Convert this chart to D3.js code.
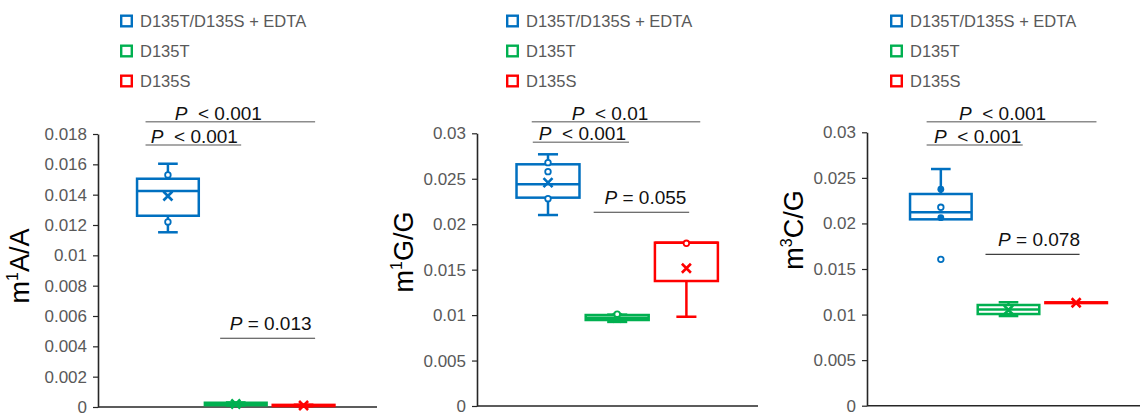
<!doctype html>
<html>
<head>
<meta charset="UTF-8">
<title>m1A / m1G / m3C</title>
<script src="https://d3js.org/d3.v7.min.js"></script>
<style>
  body { margin: 0; background: #fff; }
  svg text { font-family: "Liberation Sans", Arial, sans-serif; }
</style>
</head>
<body>
<script>
// groups and colours
var groups = ["D135T/D135S + EDTA", "D135T", "D135S"];
var groupColors = ["#0070c0", "#00b050", "#ff0000"];

// box stats: lo whisker, q1, median, q3, hi whisker, mean
var m1A = [
  {lo: 0.01152, q1: 0.01261, med: 0.01424, q3: 0.01505, hi: 0.01604, mean: 0.01391},
  {lo: 0.00010, q1: 0.00012, med: 0.00020, q3: 0.00028, hi: 0.00030, mean: 0.00020},
  {lo: 0.00005, q1: 0.00006, med: 0.00010, q3: 0.00014, hi: 0.00015, mean: 0.00010}
];
var m1A_open = [[0.0153, 0.0122], [], []];
var m1A_solid = [[], [], []];

var m1G = [
  {lo: 0.02101, q1: 0.02292, med: 0.02439, q3: 0.02659, hi: 0.02769, mean: 0.02457},
  {lo: 0.00925, q1: 0.00946, med: 0.00972, q3: 0.01001, hi: 0.01005, mean: 0.00970},
  {lo: 0.00982, q1: 0.01375, med: 0.01797, q3: 0.01797, hi: 0.01797, mean: 0.01515}
];
var m1G_open = [[0.02677, 0.02578, 0.02281], [0.0101], [0.0179]];
var m1G_solid = [[], [], []];

var m3C = [
  {lo: 0.02045, q1: 0.02045, med: 0.02122, q3: 0.02323, hi: 0.02597, mean: null},
  {lo: 0.00984, q1: 0.01006, med: 0.01056, q3: 0.01105, hi: 0.01135, mean: 0.01050},
  {lo: 0.01130, q1: 0.01126, med: 0.01130, q3: 0.01134, hi: 0.01130, mean: 0.01130}
];
var m3C_open = [[0.02177, 0.01606], [], []];
var m3C_solid = [[0.02375, 0.02063], [], []];

// y ticks
var ticks1 = [0, 0.002, 0.004, 0.006, 0.008, 0.01, 0.012, 0.014, 0.016, 0.018];
var ticks2 = [0, 0.005, 0.01, 0.015, 0.02, 0.025, 0.03];

// p-value brackets: from group, to group, height (data units), label
var br1 = [
  {a: 0, b: 2, y: 0.01881, rel: "<", p: "0.001"},
  {a: 0, b: 1, y: 0.01727, rel: "<", p: "0.001"},
  {a: 1, b: 2, y: 0.00453, rel: "=", p: "0.013"}
];
var br2 = [
  {a: 0, b: 2, y: 0.03128, rel: "<", p: "0.01"},
  {a: 0, b: 1, y: 0.02901, rel: "<", p: "0.001"},
  {a: 1, b: 2, y: 0.02131, rel: "=", p: "0.055"}
];
var br3 = [
  {a: 0, b: 2, y: 0.03116, rel: "<", p: "0.001"},
  {a: 0, b: 1, y: 0.02861, rel: "<", p: "0.001"},
  {a: 1, b: 2, y: 0.01661, rel: "=", p: "0.078"}
];

// layout per panel (pixels)
var panels = [
  {stats: m1A, open: m1A_open, solid: m1A_solid, ticks: ticks1, max: 0.018, br: br1,
   label: ["m", "1", "A/A"], labX: 29, labY: 266,
   x0: 98, x1: 377, yTop: 134, yBot: 407, bandL: 134, bandR: 337.5, legX: 120,
   brOff: [[-0.33, 0.17, -12], [-0.33, 0.08, 1], [-0.23, 0.17, 3]]},
  {stats: m1G, open: m1G_open, solid: m1G_solid, ticks: ticks2, max: 0.03, br: br2,
   label: ["m", "1", "G/G"], labX: 413, labY: 252,
   x0: 477, x1: 758, yTop: 133.3, yBot: 406, bandL: 513.4, bandR: 721, legX: 506,
   brOff: [[-0.235, 0.2, -6], [-0.22, 0.17, 1.5], [-0.34, 0.04, 4]]},
  {stats: m3C, open: m3C_open, solid: m3C_solid, ticks: ticks2, max: 0.03, br: br3,
   label: ["m", "3", "C/G"], labX: 803, labY: 230,
   x0: 867, x1: 1140, yTop: 132.3, yBot: 405.7, bandL: 907, bandR: 1110, legX: 890,
   brOff: [[-0.21, 0.3, -9], [-0.21, 0.21, 3], [-0.34, 0.05, 6.5]]}
];

var svg = d3.select("body").append("svg")
  .attr("width", 1142).attr("height", 414);

function fmt(d) { return d === 0 ? "0" : String(+d.toFixed(3)); }

panels.forEach(function(P) {
  var g = svg.append("g");
  var y = d3.scaleLinear().domain([0, P.max]).range([P.yBot, P.yTop]);
  var x = d3.scaleBand().domain(groups).range([P.bandL, P.bandR]).padding(0);
  var bw = x.bandwidth() * 0.91;
  var cap = x.bandwidth() * 0.29;

  // legend
  var leg = g.selectAll(".leg").data(groups).enter().append("g")
    .attr("transform", function(d, i) { return "translate(" + P.legX + "," + (21 + i * 30) + ")"; });
  leg.append("rect").attr("x", 1.2).attr("y", -5.3).attr("width", 10.6).attr("height", 10.6)
    .attr("fill", "#fff").attr("stroke-width", 2.4)
    .attr("stroke", function(d, i) { return groupColors[i]; });
  leg.append("text").attr("x", 20).attr("y", 6)
    .attr("font-size", 16.5).attr("fill", "#595959").text(function(d) { return d; });

  // y axis
  var ax = g.append("g").attr("transform", "translate(" + P.x0 + ",0)")
    .call(d3.axisLeft(y).tickValues(P.ticks).tickFormat(fmt).tickSize(5).tickSizeOuter(0).tickPadding(6));
  ax.select(".domain").attr("stroke", "#262626").attr("stroke-width", 1.6);
  ax.selectAll(".tick line").attr("stroke", "#262626").attr("stroke-width", 1.2);
  ax.selectAll(".tick text").attr("font-size", 17).attr("fill", "#595959")
    .attr("font-family", "Liberation Sans, Arial, sans-serif");

  // x axis baseline
  g.append("line").attr("x1", P.x0).attr("x2", P.x1)
    .attr("y1", y(0)).attr("y2", y(0))
    .attr("stroke", "#262626").attr("stroke-width", 1.6);

  // y label
  var lab = g.append("text")
    .attr("transform", "translate(" + P.labX + "," + P.labY + ") rotate(-90)")
    .attr("text-anchor", "middle").attr("font-size", 27).attr("fill", "#000");
  lab.append("tspan").text(P.label[0]);
  lab.append("tspan").attr("font-size", 16).attr("dy", -11).text(P.label[1]);
  lab.append("tspan").attr("dy", 11).text(P.label[2]);

  // boxes
  P.stats.forEach(function(s, i) {
    var c = groupColors[i];
    var cx = x(groups[i]) + x.bandwidth() / 2;
    var bx = g.append("g").attr("stroke", c).attr("stroke-width", 2.5).attr("fill", "none");
    bx.append("line").attr("x1", cx).attr("x2", cx).attr("y1", y(s.q3)).attr("y2", y(s.hi));
    bx.append("line").attr("x1", cx).attr("x2", cx).attr("y1", y(s.q1)).attr("y2", y(s.lo));
    if (s.hi > s.q3) bx.append("line").attr("x1", cx - cap / 2).attr("x2", cx + cap / 2).attr("y1", y(s.hi)).attr("y2", y(s.hi));
    if (s.lo < s.q1) bx.append("line").attr("x1", cx - cap / 2).attr("x2", cx + cap / 2).attr("y1", y(s.lo)).attr("y2", y(s.lo));
    bx.append("rect").attr("x", cx - bw / 2).attr("width", bw)
      .attr("y", y(s.q3)).attr("height", Math.max(0.5, y(s.q1) - y(s.q3)));
    bx.append("line").attr("x1", cx - bw / 2).attr("x2", cx + bw / 2).attr("y1", y(s.med)).attr("y2", y(s.med));
    if (s.mean !== null) {
      var my = y(s.mean), k = 4.5;
      bx.append("path").attr("stroke-width", 2.6)
        .attr("d", "M" + (cx - k) + "," + (my - k) + "L" + (cx + k) + "," + (my + k) +
                   "M" + (cx - k) + "," + (my + k) + "L" + (cx + k) + "," + (my - k));
    }
    bx.selectAll(".op").data(P.open[i]).enter().append("circle")
      .attr("cx", cx).attr("cy", function(v) { return y(v); }).attr("r", 2.8)
      .attr("fill", "#fff").attr("stroke-width", 1.8);
    bx.selectAll(".so").data(P.solid[i]).enter().append("circle")
      .attr("cx", cx).attr("cy", function(v) { return y(v); }).attr("r", 3.4)
      .attr("fill", c).attr("stroke", "none");
  });

  // p-value brackets
  P.br.forEach(function(b, j) {
    var off = P.brOff[j];
    var xa = x(groups[b.a]) + x.bandwidth() * (0.5 + off[0]);
    var xb = x(groups[b.b]) + x.bandwidth() * (0.5 + off[1]);
    var ly = y(b.y);
    var isLt = b.rel === "<";
    g.append("line").attr("x1", xa).attr("x2", xb).attr("y1", ly).attr("y2", ly)
      .attr("stroke", isLt ? "#8c8c8c" : "#3f3f3f").attr("stroke-width", isLt ? 1.5 : 1.1);
    var t = g.append("text").attr("x", (xa + xb) / 2 + off[2]).attr("y", ly - (isLt ? 2 : 8))
      .attr("text-anchor", "middle").attr("font-size", 19).attr("fill", "#111");
    t.append("tspan").attr("font-style", "italic").text("P");
    t.append("tspan").text(isLt ? "\u00a0\u00a0< " + b.p : " = " + b.p);
  });
});
</script>
</body>
</html>
